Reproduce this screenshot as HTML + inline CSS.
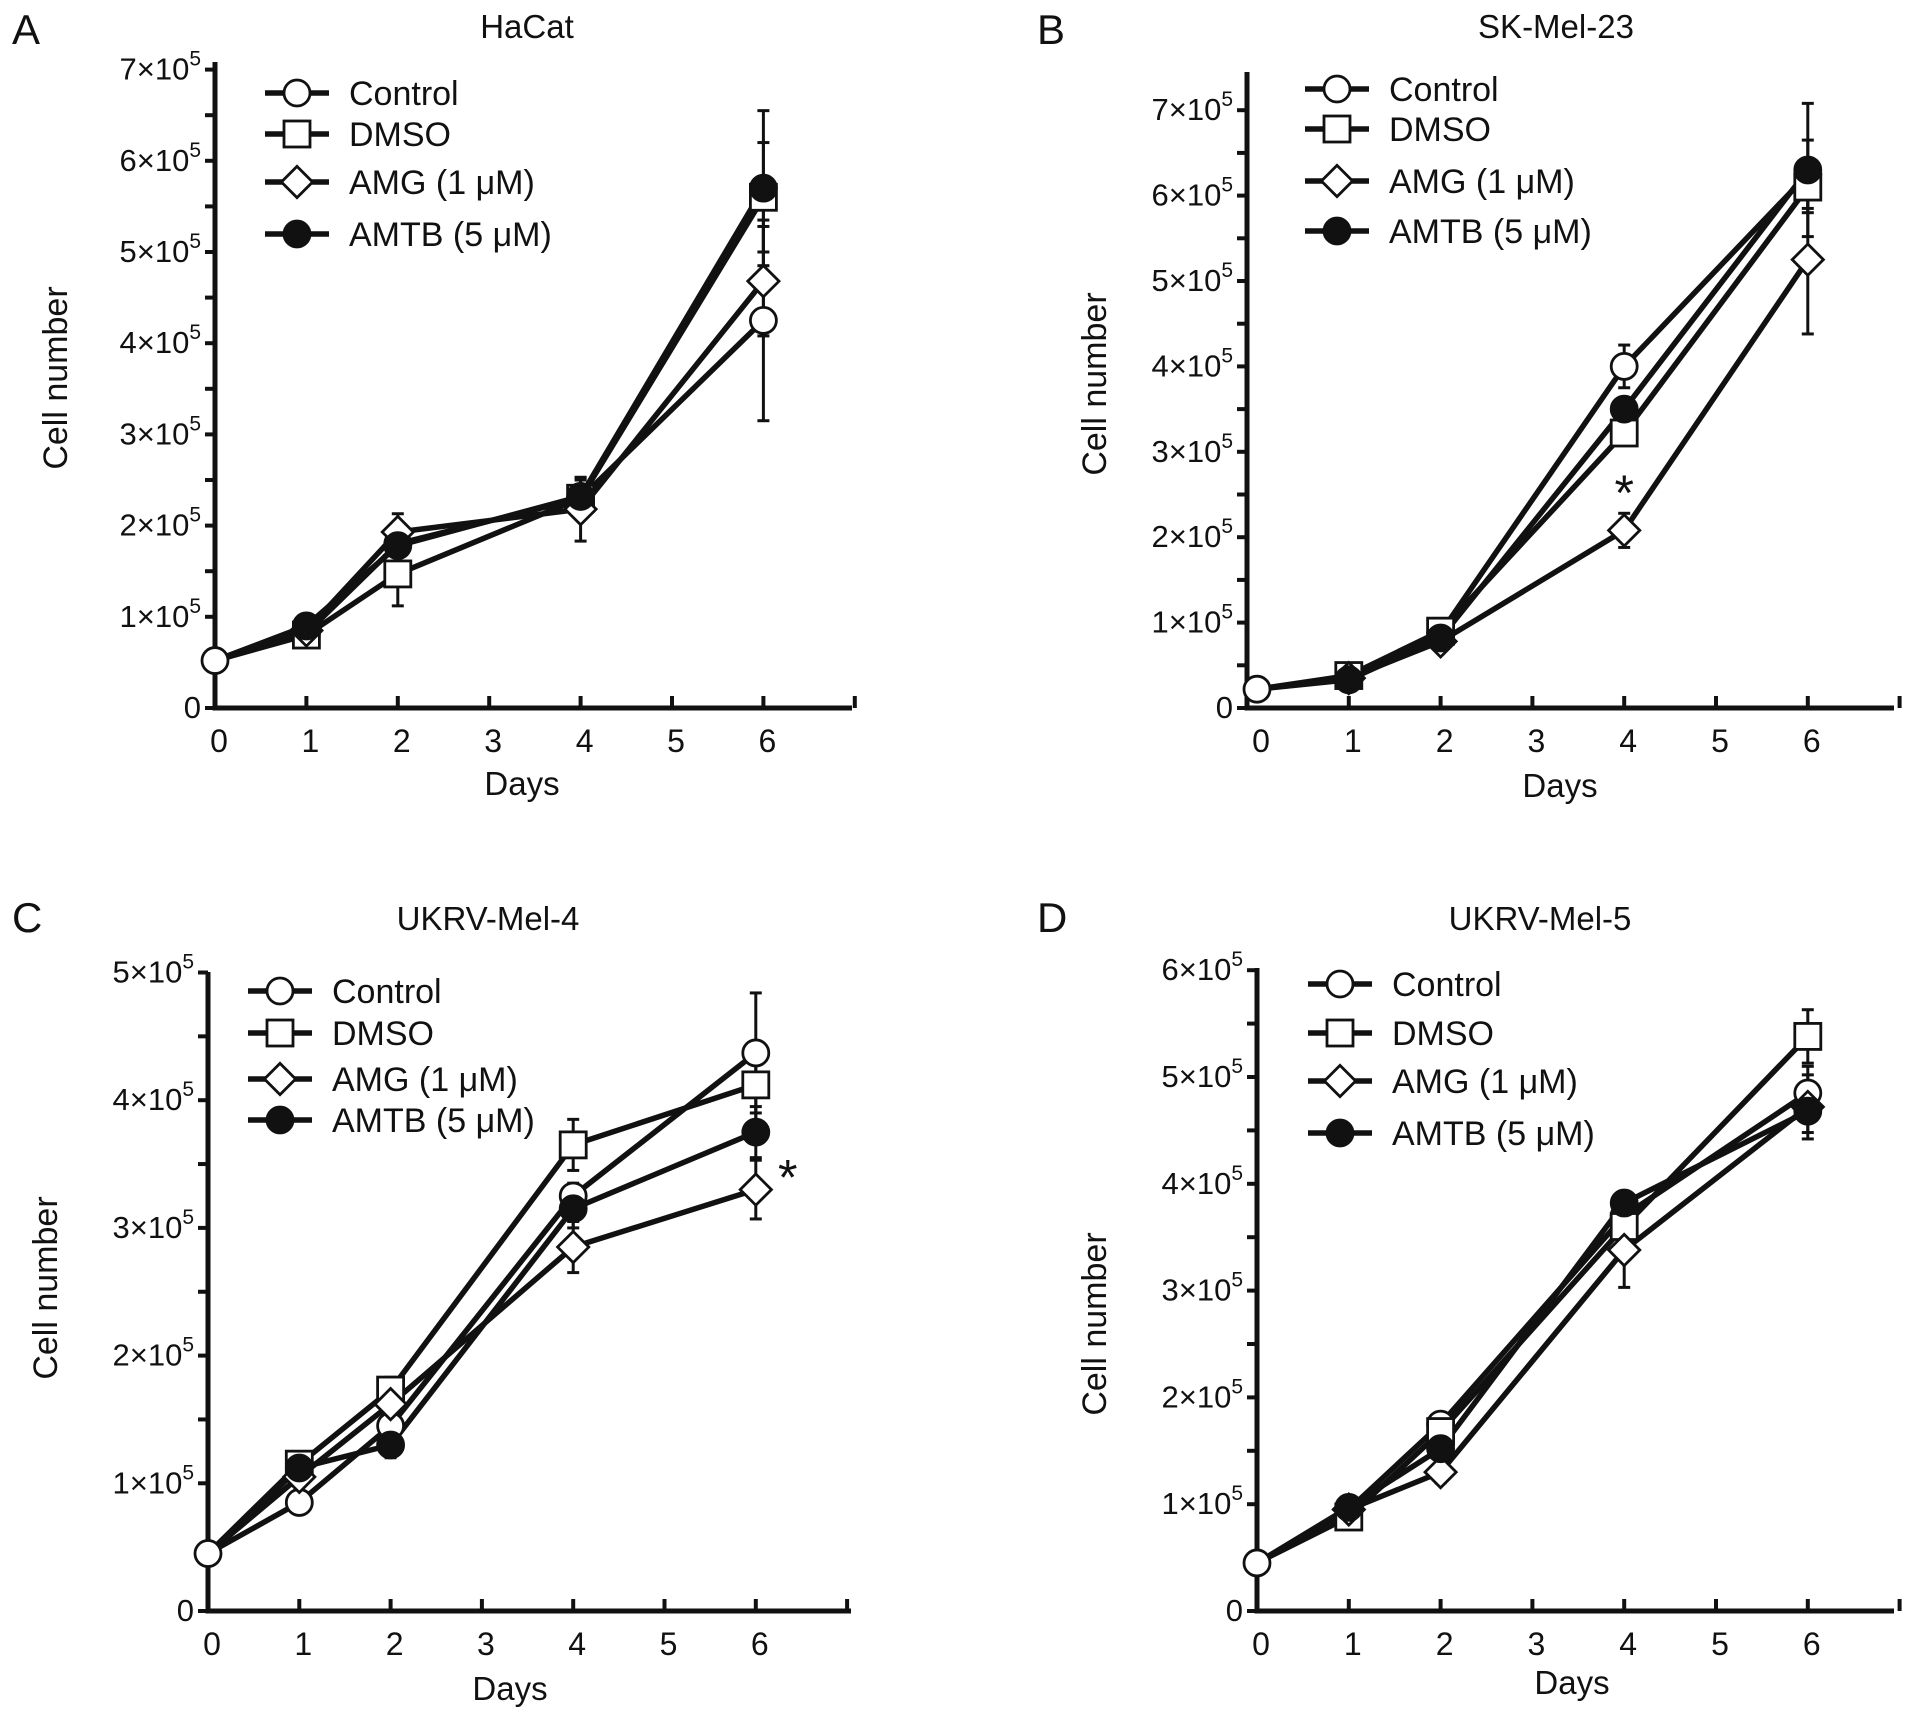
<!DOCTYPE html>
<html><head><meta charset="utf-8"><style>
body{margin:0;background:#fff;}
svg{display:block;font-family:"Liberation Sans",Arial,sans-serif;}
</style></head><body>
<svg id="fig" width="1913" height="1722" viewBox="0 0 1913 1722"></svg>
<script>
const days = [0, 1, 2, 4, 6];
const seriesNames = ["Control", "DMSO", "AMG (1 \u03bcM)", "AMTB (5 \u03bcM)"];
const markerTypes = ["circle", "square", "diamond", "dot"];
// values in units of 1e5 cells
const aControl = [0.52, 0.82, 1.80, 2.30, 4.25];
const aDmso    = [0.52, 0.80, 1.47, 2.30, 5.60];
const aAmg     = [0.52, 0.85, 1.93, 2.18, 4.68];
const aAmtb    = [0.52, 0.90, 1.78, 2.32, 5.70];
const aErr     = [[0,0.05,0.1,0.2,1.1],[0,0.05,0.35,0.1,0.6],[0,0.05,0.2,0.35,0.6],[0,0.05,0.1,0.2,0.85]];
const bControl = [0.22, 0.35, 0.88, 4.00, 6.25];
const bDmso    = [0.22, 0.38, 0.90, 3.22, 6.10];
const bAmg     = [0.22, 0.35, 0.78, 2.08, 5.25];
const bAmtb    = [0.22, 0.33, 0.82, 3.50, 6.30];
const bErr     = [[0,0.05,0.05,0.25,0.4],[0,0.05,0.05,0.1,0.3],[0,0.05,0.05,0.2,0.87],[0,0.05,0.05,0.1,0.78]];
const cControl = [0.45, 0.85, 1.45, 3.25, 4.37];
const cDmso    = [0.45, 1.15, 1.73, 3.65, 4.12];
const cAmg     = [0.45, 1.05, 1.62, 2.85, 3.30];
const cAmtb    = [0.45, 1.12, 1.30, 3.15, 3.75];
const cErr     = [[0,0.05,0.1,0.1,0.47],[0,0.05,0.1,0.2,0.3],[0,0.05,0.1,0.2,0.23],[0,0.05,0.1,0.15,0.2]];
const dControl = [0.45, 0.95, 1.75, 3.70, 4.85];
const dDmso    = [0.45, 0.88, 1.68, 3.60, 5.38];
const dAmg     = [0.45, 0.95, 1.30, 3.38, 4.72];
const dAmtb    = [0.45, 0.97, 1.52, 3.82, 4.68];
const dErr     = [[0,0.05,0.1,0.1,0.25],[0,0.05,0.1,0.1,0.25],[0,0.05,0.1,0.35,0.3],[0,0.05,0.1,0.1,0.2]];

const panels = [
 {id:"a", letter:"A", title:"HaCat", data:[aControl,aDmso,aAmg,aAmtb], err:aErr, ymax:7,
  ax:215, y0:708, ppu:91.2, x0:215, dx:91.4, xend:852, top:62, tx:527, ty:38, lx:12, ly:44,
  ylx:67, yly:378, dxx:522, dxy:795, legX:297, legY:[93,134,182,234], star:null},
 {id:"b", letter:"B", title:"SK-Mel-23", data:[bControl,bDmso,bAmg,bAmtb], err:bErr, ymax:7,
  ax:1247, y0:708, ppu:85.4, x0:1257, dx:91.8, xend:1894, top:72, tx:1556, ty:38, lx:1037, ly:44,
  ylx:1106, yly:384, dxx:1560, dxy:797, legX:1337, legY:[89,129,181,231], star:[4,2.6]},
 {id:"c", letter:"C", title:"UKRV-Mel-4", data:[cControl,cDmso,cAmg,cAmtb], err:cErr, ymax:5,
  ax:208, y0:1611, ppu:127.7, x0:208, dx:91.3, xend:851, top:972, tx:488, ty:930, lx:12, ly:932,
  ylx:57, yly:1288, dxx:510, dxy:1700, legX:280, legY:[991,1033,1079,1120], star:[6.35,3.45]},
 {id:"d", letter:"D", title:"UKRV-Mel-5", data:[dControl,dDmso,dAmg,dAmtb], err:dErr, ymax:6,
  ax:1257, y0:1611, ppu:106.8, x0:1257, dx:91.8, xend:1894, top:968, tx:1540, ty:930, lx:1037, ly:932,
  ylx:1106, yly:1324, dxx:1572, dxy:1694, legX:1340, legY:[984,1033,1081,1133], star:null}
];
const NS="http://www.w3.org/2000/svg";
const svg=document.getElementById("fig");
function mk(tag,attrs,parent){const e=document.createElementNS(NS,tag);for(const k in attrs)e.setAttribute(k,attrs[k]);(parent||svg).appendChild(e);return e;}
function marker(g,type,x,y,r){
  let e;
  if(type==="circle"||type==="dot") e=mk("circle",{cx:x,cy:y,r:r,fill:type==="dot"?"#111":"#fff",stroke:"#111","stroke-width":2.8},g);
  else if(type==="square") e=mk("rect",{x:x-r,y:y-r,width:2*r,height:2*r,fill:"#fff",stroke:"#111","stroke-width":2.8},g);
  else e=mk("polygon",{points:`${x},${y-r*1.2} ${x+r*1.2},${y} ${x},${y+r*1.2} ${x-r*1.2},${y}`,fill:"#fff",stroke:"#111","stroke-width":2.8},g);
  return e;
}
panels.forEach(p=>{
  const g=mk("g",{});
  
  
  const X=d=>p.x0+d*p.dx, Y=v=>p.y0-v*p.ppu;
  const L=mk("text",{x:p.lx,y:p.ly,"font-size":42,fill:"#111"},g);L.textContent=p.letter;
  
  
  const T=mk("text",{x:p.tx,y:p.ty,"font-size":33,"text-anchor":"middle",fill:"#111"},g);T.textContent=p.title;
  
  
  const axis=mk("path",{d:`M${p.ax},${p.top} V${p.y0} H${p.xend}`,fill:"none",stroke:"#111","stroke-width":5},g);
  
  
  for(let v=0;v<=p.ymax*2;v++){
    const y=Y(v/2);
    mk("line",{x1:p.ax-10,x2:p.ax,y1:y,y2:y,stroke:"#111","stroke-width":4},g);
    if(v%2===0){
      const t=mk("text",{x:p.ax-14,y:y+10,"font-size":31,"text-anchor":"end",fill:"#111"},g);
      
      
      const n=v/2;
      if(n===0){t.textContent="0";}
      else{t.textContent=n+"\u00d710";const s=mk("tspan",{dy:-14,"font-size":21},t);s.textContent="5";}
    }
  }
  for(let d=1;d<=7;d++){mk("line",{x1:X(d),x2:X(d),y1:p.y0-12,y2:p.y0,stroke:"#111","stroke-width":4},g);}
  for(let d=0;d<=6;d++){
    const t=mk("text",{x:X(d)+4,y:p.y0+44,"font-size":32,"text-anchor":"middle",fill:"#111"},g);t.textContent=d;
    
    
  }
  const xt=mk("text",{x:p.dxx,y:p.dxy,"font-size":33,"text-anchor":"middle",fill:"#111"},g);xt.textContent="Days";
  
  
  const yt=mk("text",{x:p.ylx,y:p.yly,"font-size":34,"text-anchor":"middle",fill:"#111",transform:`rotate(-90 ${p.ylx} ${p.yly})`},g);yt.textContent="Cell number";
  
  
  p.data.forEach((s,i)=>{s.forEach((v,j)=>{const e=p.err[i][j];if(e<=0.06)return;
    mk("line",{x1:X(days[j]),x2:X(days[j]),y1:Y(v-e),y2:Y(v+e),stroke:"#111","stroke-width":3},g);
    mk("line",{x1:X(days[j])-6,x2:X(days[j])+6,y1:Y(v-e),y2:Y(v-e),stroke:"#111","stroke-width":3},g);
    mk("line",{x1:X(days[j])-6,x2:X(days[j])+6,y1:Y(v+e),y2:Y(v+e),stroke:"#111","stroke-width":3},g);});});
  p.data.forEach((s,i)=>{
    const pl=mk("polyline",{points:s.map((v,j)=>X(days[j])+","+Y(v)).join(" "),fill:"none",stroke:"#111","stroke-width":5.5,"stroke-linejoin":"round"},g);
    
    
  });
  p.data.forEach((s,i)=>{s.forEach((v,j)=>{if(j===0&&i>0)return;
    const m=marker(g,markerTypes[i],X(days[j]),Y(v),13);
    
    });});
  p.legY.forEach((y,i)=>{
    const lg=mk("g",{},g);
    
    
    mk("line",{x1:p.legX-32,x2:p.legX+32,y1:y,y2:y,stroke:"#111","stroke-width":5.5},lg);
    marker(lg,markerTypes[i],p.legX,y,13);
    const t=mk("text",{x:p.legX+52,y:y+12,"font-size":34,fill:"#111"},lg);t.textContent=seriesNames[i];
  });
  if(p.star){const s=mk("text",{x:X(p.star[0]),y:Y(p.star[1])+24,"font-size":50,"text-anchor":"middle",fill:"#111"},g);s.textContent="*";
    
    }
});
</script>
</body></html>
